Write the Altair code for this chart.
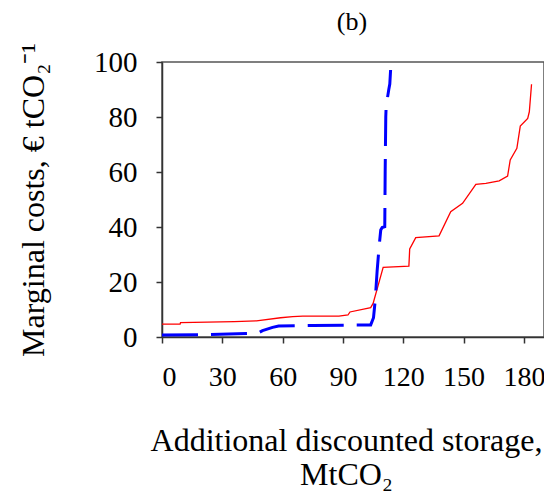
import altair as alt
import pandas as pd

# Series (b): red solid curve
red_x = [0, 9, 9.2, 36, 47, 59, 65, 70, 88, 92.5, 93.5, 103.8, 105, 110, 122.8, 123.2,
         126.2, 137.8, 143.6, 149.5, 156.1, 161.1, 167.7, 171.9, 173.2, 176.5, 178.2,
         181.9, 182.7, 183.8]
red_y = [4.7, 4.7, 5.2, 5.6, 5.9, 7.0, 7.4, 7.6, 7.6, 8.0, 9.1, 10.7, 12.2, 25.3, 25.8,
         32.0, 36.1, 36.8, 45.6, 48.6, 55.5, 55.9, 56.8, 58.5, 64.4, 68.6, 76.7, 79.5,
         81.9, 91.9]

# Blue dashed curve
blue_x = [0, 20, 42, 48, 50, 55, 58, 75, 103.8, 105.2, 106, 107, 108, 108.8, 109.5,
          110.8, 111, 111.3, 111.5, 112.8, 113.3, 113.7]
blue_y = [0.7, 0.8, 1.3, 1.5, 2.3, 3.5, 4.0, 4.2, 4.4, 7.0, 13, 24, 33, 38.9, 39.8,
          40.1, 60, 80, 84, 90, 92, 97.1]

x_ticks = [0, 30, 60, 90, 120, 150, 180]
y_ticks = [0, 20, 40, 60, 80, 100]
panel_title = ["(b)"]

red_df = pd.DataFrame({"x": red_x, "y": red_y, "i": range(len(red_x))})
blue_df = pd.DataFrame({"x": blue_x, "y": blue_y, "i": range(len(blue_x))})
title_df = pd.DataFrame({"t": panel_title})

FONT = "Liberation Serif"

xenc = alt.X("x:Q", scale=alt.Scale(domain=[0, 190], nice=False),
             axis=alt.Axis(values=x_ticks, title=["Additional discounted storage,", "MtCO₂"],
                           labelPadding=20, labelFontSize=28, titleFontSize=32,
                           titleX=184, titleY=113,
                           titleBaseline="alphabetic", titleLineHeight=34))
yenc = alt.Y("y:Q", scale=alt.Scale(domain=[0, 100], nice=False),
             axis=alt.Axis(values=y_ticks, title="Marginal costs, € tCO₂⁻¹",
                           labelPadding=19, labelFontSize=29, titleFontSize=32,
                           titleX=-119, titleY=137.5,
                           titleBaseline="alphabetic"))

red = alt.Chart(red_df).mark_line(color="#ff0000", strokeWidth=1.3).encode(
    x=xenc, y=yenc, order="i:Q")
blue = alt.Chart(blue_df).mark_line(color="#0000ff", strokeWidth=3,
                                    strokeDash=[36, 13]).encode(
    x=xenc, y=yenc, order="i:Q")
title = alt.Chart(title_df).mark_text(font=FONT, fontSize=26, color="black",
                                      baseline="middle", align="center").encode(
    text="t:N", x=alt.value(190), y=alt.value(-40))

chart = alt.layer(red, blue, title).properties(
    width=382, height=275,
    padding={"left": 154, "top": 54, "right": 0, "bottom": 156},
    autosize=alt.AutoSizeParams(type="none"),
).configure_view(stroke="#555555", strokeWidth=1.5).configure_axis(
    grid=False, domainColor="#333333", domainWidth=1.5, tickColor="#333333",
    tickSize=6, tickWidth=1.5,
    labelFont=FONT, labelColor="black",
    titleFont=FONT, titleFontWeight="normal", titleColor="black",
)

chart.save("out.html", embed_options={"renderer": "svg", "actions": False})
